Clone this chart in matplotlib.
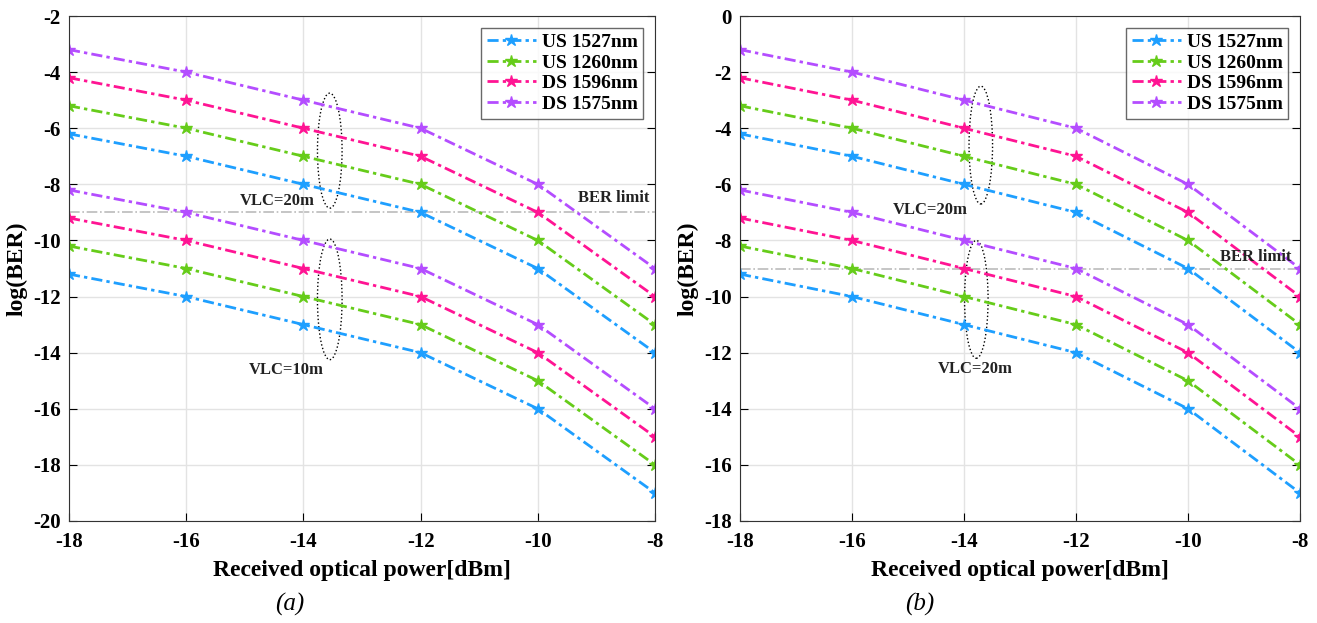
import matplotlib
matplotlib.use("Agg")
import matplotlib.pyplot as plt
from matplotlib.patches import Ellipse

plt.rcParams['font.family'] = ['Liberation Serif', 'DejaVu Serif']
plt.rcParams['font.weight'] = 'bold'
plt.rcParams['axes.unicode_minus'] = False

power = [-18, -16, -14, -12, -10, -8]
labels = ["US 1527nm", "US 1260nm", "DS 1596nm", "DS 1575nm"]
colors = ["#1e9fff", "#66cc1a", "#ff1493", "#b44dff"]

# panel (a): VLC=20m (upper group) and VLC=10m (lower group)
a_20m = [
    [-6.2, -7, -8, -9, -11, -14],
    [-5.2, -6, -7, -8, -10, -13],
    [-4.2, -5, -6, -7, -9, -12],
    [-3.2, -4, -5, -6, -8, -11],
]
a_10m = [
    [-11.2, -12, -13, -14, -16, -19],
    [-10.2, -11, -12, -13, -15, -18],
    [-9.2, -10, -11, -12, -14, -17],
    [-8.2, -9, -10, -11, -13, -16],
]
# panel (b)
b_upper = [
    [-4.2, -5, -6, -7, -9, -12],
    [-3.2, -4, -5, -6, -8, -11],
    [-2.2, -3, -4, -5, -7, -10],
    [-1.2, -2, -3, -4, -6, -9],
]
b_lower = [
    [-9.2, -10, -11, -12, -14, -17],
    [-8.2, -9, -10, -11, -13, -16],
    [-7.2, -8, -9, -10, -12, -15],
    [-6.2, -7, -8, -9, -11, -14],
]
ber_limit = -9


def draw_panel(ax, upper, lower, ylim, ellipses, texts):
    style = dict(lw=2, dashes=(4, 1.5, 1.2, 1.5), marker='*', ms=9)
    for ys, c, lab in zip(upper, colors, labels):
        ax.plot(power, ys, color=c, label=lab, **style)
    for ys, c in zip(lower, colors):
        ax.plot(power, ys, color=c, **style)
    ax.axhline(ber_limit, color='#bbbbbb', ls='-.', lw=1.2, zorder=0)
    for (cx, cy, w, h) in ellipses:
        ax.add_patch(Ellipse((cx, cy), w, h, fill=False, ls=':', lw=1, color='black'))
    for (tx, ty, s, ha) in texts:
        ax.text(tx, ty, s, ha=ha, va='center', fontsize=12, fontweight='bold', color='#222222')
    ax.set_xlim(-18, -8)
    ax.set_ylim(*ylim)
    ax.set_xticks(power)
    ax.set_yticks(range(ylim[0], ylim[1] + 1, 2))
    ax.grid(True, color='#e3e3e3', lw=1)
    ax.set_axisbelow(True)
    ax.tick_params(direction='in', top=False, right=True, labelsize=15, length=6)
    ax.tick_params(axis='x', pad=8)
    ax.tick_params(axis='y', pad=6)
    for lab in ax.get_xticklabels() + ax.get_yticklabels():
        lab.set_fontweight('bold')
    for sp in ax.spines.values():
        sp.set_color('#333333')
    ax.set_xlabel("Received optical power[dBm]", fontsize=17, fontweight='bold', labelpad=6)
    ax.set_ylabel("log(BER)", fontsize=17, fontweight='bold', labelpad=4)
    ax.legend(loc='upper right', frameon=True, fancybox=False,
              edgecolor='#444444', handlelength=2.5, borderpad=0.3,
              labelspacing=0.15, handletextpad=0.3, borderaxespad=0.6,
              prop={'weight': 'bold', 'size': 14})


fig = plt.figure(figsize=(13.17, 6.23), dpi=100)
ax1 = fig.add_axes([69 / 1317, 1 - 521 / 623, 586 / 1317, 505 / 623])
ax2 = fig.add_axes([740 / 1317, 1 - 521 / 623, 560 / 1317, 505 / 623])

draw_panel(ax1, a_20m, a_10m, (-20, -2),
           [(-13.55, -6.8, 0.42, 4.1), (-13.55, -12.1, 0.42, 4.3)],
           [(-14.45, -8.6, "VLC=20m", 'center'), (-8.1, -8.5, "BER limit", 'right'),
            (-14.3, -14.6, "VLC=10m", 'center')])
draw_panel(ax2, b_upper, b_lower, (-18, 0),
           [(-13.7, -4.6, 0.42, 4.2), (-13.78, -10.1, 0.42, 4.2)],
           [(-14.6, -6.9, "VLC=20m", 'center'), (-8.15, -8.6, "BER limit", 'right'),
            (-13.8, -12.6, "VLC=20m", 'center')])

fig.text(290 / 1317, 1 - 604 / 623, "(a)", fontsize=18, style='italic',
         fontweight='normal', ha='center', va='center')
fig.text(920 / 1317, 1 - 604 / 623, "(b)", fontsize=18, style='italic',
         fontweight='normal', ha='center', va='center')

fig.savefig("out.png", dpi=100)
